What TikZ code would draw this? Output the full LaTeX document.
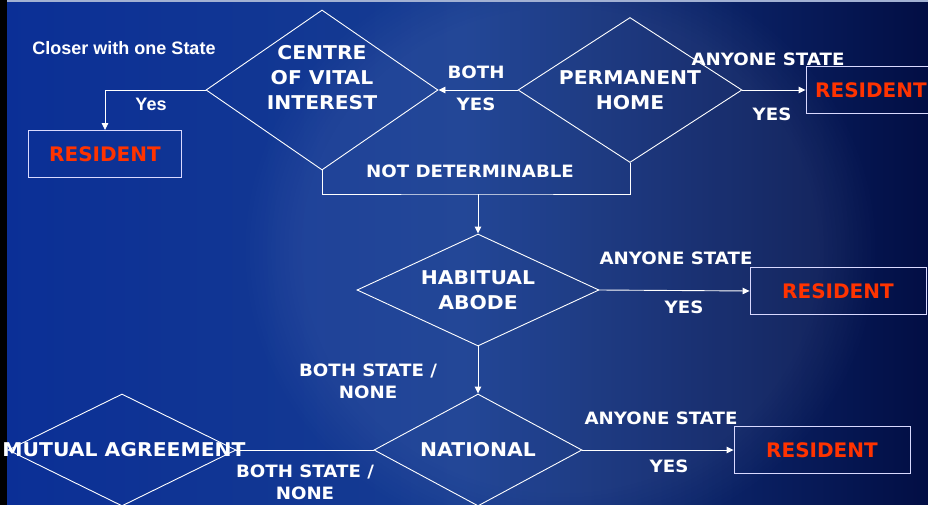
\documentclass[tikz,border=0pt]{standalone}
\usepackage{fontspec}
\newfontfamily\techfont{DejaVu Sans}
\newfontfamily\techwide{DejaVu Sans}[FakeStretch=1.07]
\newfontfamily\plainsans{Liberation Sans}
\usepackage{tikz}
\usetikzlibrary{arrows.meta,positioning,shapes.geometric,fadings}
\definecolor{bgleft}{RGB}{11,47,150}
\definecolor{bgmid}{RGB}{22,60,145}
\definecolor{bgright}{RGB}{2,14,68}
\definecolor{resred}{RGB}{255,51,0}

\begin{document}
\begin{tikzpicture}[x=1pt,y=-1pt,
        decision/.style={diamond,draw=white,line width=0.9pt,inner sep=0pt},
        dtext/.style={text=white,align=center,font=\techwide\bfseries\fontsize{19}{25}\selectfont},
        resbox/.style={rectangle,draw=white!85!blue,line width=0.9pt,minimum height=47pt,
            text=resred,font=\techfont\bfseries\fontsize{20}{24}\selectfont},
        lbl/.style={text=white,align=center,font=\techwide\bfseries\fontsize{17}{22}\selectfont},
        note/.style={text=white,font=\plainsans\bfseries\fontsize{18}{21}\selectfont},
        flow/.style={-{Triangle[length=7pt,width=6.5pt]},draw=white,line width=0.9pt},
        link/.style={draw=white,line width=0.9pt}
    ]
        % background
        \useasboundingbox (0,0) rectangle (928,505);
        \clip (0,0) rectangle (928,505);
        \fill[left color=bgleft,right color=bgright,middle color=bgmid] (0,0) rectangle (928,505);
        \fill[white,opacity=0.06,path fading=circle with fuzzy edge 20 percent] (560,250) ellipse (320 and 300);
        \fill[black] (0,0) rectangle (7,505);
        \fill[white!60!bgmid] (7,0) rectangle (928,2.5);

        % decisions
        \node[decision,minimum width=232pt,minimum height=160pt] (cvi) at (322,90) {};
        \node[decision,minimum width=224pt,minimum height=145pt] (ph) at (630,90) {};
        \node[decision,minimum width=242pt,minimum height=112pt] (ha) at (478,290) {};
        \node[decision,minimum width=208pt,minimum height=112pt] (nat) at (478,450) {};
        \node[decision,minimum width=228pt,minimum height=112pt] (ma) at (122,450) {};

        \node[dtext] (cvitext) at ([yshift=12pt]cvi.center) {CENTRE\\OF VITAL\\INTEREST};
        \node[dtext] (phtext) at (ph) {PERMANENT\\HOME};
        \node[dtext] (hatext) at (ha) {HABITUAL\\ABODE};
        \node[dtext] (nattext) at (nat) {NATIONAL};
        \node[dtext] (matext) at (124,450) {MUTUAL AGREEMENT};

        % outcomes
        \node[resbox,minimum width=130pt] (res1) at (871,90) {RESIDENT};
        \node[resbox,minimum width=153pt] (res2) at (105,154) {RESIDENT};
        \node[resbox,minimum width=176pt] (res3) at (838,291) {RESIDENT};
        \node[resbox,minimum width=176pt] (res4) at (822,450) {RESIDENT};

        % connectors
        \coordinate (split) at (478,194);
        \draw[flow] (ph.west) -- (cvi.east);
        \draw[flow] (ph.east) -- (res1.west);
        \draw[flow] (cvi.west) -| (res2.north);
        \draw[link] (cvi.south) |- (split) -| (ph.south);
        \draw[flow] (split) -- (ha.north);
        \draw[flow] (ha.east) -- (res3.west);
        \draw[flow] (ha.south) -- (nat.north);
        \draw[flow] (nat.east) -- (res4.west);
        \draw[link] (nat.west) -- (ma.east);

        % labels
        \node[note] (closer) at (124,48) {Closer with one State};
        \node[note] (yesleft) at (151,104) {Yes};
        \node[lbl] (both) at (476,72) {BOTH};
        \node[lbl] (yesboth) at (476,104) {YES};
        \node[lbl] (anyone1) at (768,59) {ANYONE STATE};
        \node[lbl] (yes1) at (772,114) {YES};
        \node[lbl] (notdet) at (470,171) {NOT DETERMINABLE};
        \node[lbl] (anyone2) at (676,258) {ANYONE STATE};
        \node[lbl] (yes2) at (684,307) {YES};
        \node[lbl] (bothnone1) at (368,381) {BOTH STATE /\\NONE};
        \node[lbl] (anyone3) at (661,418) {ANYONE STATE};
        \node[lbl] (yes3) at (669,466) {YES};
        \node[lbl] (bothnone2) at (305,482) {BOTH STATE /\\NONE};
    \end{tikzpicture}
\end{document}
